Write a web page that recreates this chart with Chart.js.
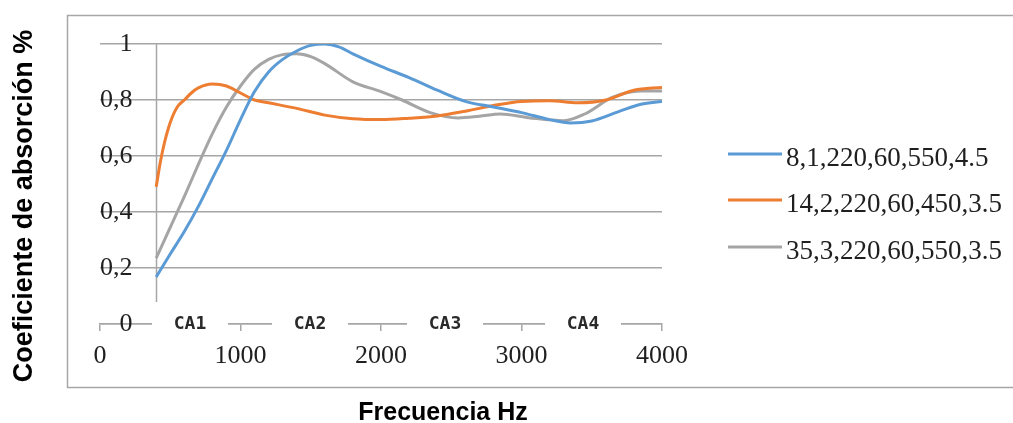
<!DOCTYPE html>
<html>
<head>
<meta charset="utf-8">
<script src="https://cdn.jsdelivr.net/npm/chart.js@4.4.1/dist/chart.umd.min.js"></script>
<style>
  html, body { margin: 0; padding: 0; background: #fff; overflow: hidden; }
  canvas { display: block; }
</style>
</head>
<body>
<canvas id="chart" width="1013" height="423"></canvas>
<script>
// Absorption coefficient vs frequency for three panel configurations
const seriesLabels = ['8,1,220,60,550,4.5', '14,2,220,60,450,3.5', '35,3,220,60,550,3.5'];

const blueHz  = [400, 500, 600, 700, 800, 900, 1000, 1100, 1200, 1300, 1400, 1500, 1600, 1700, 1800, 2000, 2200, 2400, 2600, 2800, 3000, 3200, 3350, 3500, 3700, 3850, 4000];
const blueAbs = [0.168, 0.25, 0.33, 0.42, 0.52, 0.62, 0.73, 0.83, 0.90, 0.945, 0.975, 0.995, 1.0, 0.99, 0.965, 0.92, 0.88, 0.835, 0.795, 0.775, 0.755, 0.73, 0.718, 0.725, 0.76, 0.785, 0.795];

const orangeHz  = [400, 430, 460, 500, 550, 600, 650, 700, 800, 900, 1000, 1100, 1200, 1400, 1600, 1800, 2000, 2200, 2400, 2600, 2800, 3000, 3200, 3400, 3600, 3800, 4000];
const orangeAbs = [0.49, 0.58, 0.65, 0.72, 0.775, 0.80, 0.825, 0.843, 0.857, 0.85, 0.825, 0.80, 0.79, 0.77, 0.746, 0.733, 0.73, 0.735, 0.743, 0.76, 0.78, 0.795, 0.797, 0.79, 0.80, 0.835, 0.845];

const grayHz  = [400, 500, 600, 700, 800, 900, 1000, 1100, 1200, 1300, 1400, 1500, 1600, 1800, 2000, 2150, 2350, 2550, 2700, 2850, 3050, 3300, 3450, 3650, 3850, 4000];
const grayAbs = [0.235, 0.345, 0.455, 0.57, 0.68, 0.775, 0.85, 0.91, 0.945, 0.962, 0.965, 0.955, 0.93, 0.865, 0.83, 0.80, 0.755, 0.736, 0.742, 0.75, 0.737, 0.726, 0.75, 0.81, 0.832, 0.832];

const xTicks = [0, 1000, 2000, 3000, 4000];
const yTicks = [0, 0.2, 0.4, 0.6, 0.8, 1];
const bandLabels = ['CA1', 'CA2', 'CA3', 'CA4'];
const xTitle = 'Frecuencia Hz';
const yTitle = 'Coeficiente de absorción %';

const COLORS = ['#5b9bd5', '#ed7d31', '#a5a5a5'];
const GRID = '#a6a6a6';
const SERIF = '"Liberation Serif", "Times New Roman", serif';
const SANS = '"Liberation Sans", Arial, sans-serif';

const toPoints = (hz, vals) => hz.map((f, i) => ({ x: f, y: vals[i] }));

const decor = {
  id: 'decor',
  beforeDraw(chart) {
    const ctx = chart.ctx;
    ctx.save();
    ctx.fillStyle = '#fff';
    ctx.fillRect(0, 0, chart.width, chart.height);
    ctx.strokeStyle = GRID;
    ctx.lineWidth = 1.5;
    ctx.strokeRect(67.5, 15.5, 960, 372);
    ctx.restore();
  },
  beforeDatasetsDraw(chart) {
    const { ctx, scales: { x, y } } = chart;
    ctx.save();
    ctx.strokeStyle = GRID;
    ctx.lineWidth = 1.5;
    const px = Math.round(x.getPixelForValue(blueHz[0])) + 0.5;
    ctx.beginPath();
    ctx.moveTo(px, y.getPixelForValue(1));
    ctx.lineTo(px, y.getPixelForValue(0) - 22);
    ctx.stroke();
    ctx.restore();
  },
  afterDraw(chart) {
    const { ctx, scales: { y } } = chart;
    ctx.save();
    // band labels sitting on the baseline
    const baseY = y.getPixelForValue(0);
    const centres = [190, 310, 445, 583];
    ctx.font = 'bold 18px "DejaVu Sans Mono", monospace';
    ctx.textAlign = 'center';
    ctx.textBaseline = 'middle';
    bandLabels.forEach((t, i) => {
      ctx.fillStyle = '#fff';
      ctx.fillRect(centres[i] - 38, baseY - 4, 76, 8);
      ctx.fillStyle = '#2a2a2a';
      ctx.fillText(t, centres[i], baseY);
    });

    // legend
    const rows = [154, 200, 247];
    ctx.textAlign = 'left';
    ctx.textBaseline = 'alphabetic';
    ctx.font = '27px ' + SERIF;
    chart.data.datasets.forEach((ds, i) => {
      ctx.strokeStyle = ds.borderColor;
      ctx.lineWidth = 3;
      ctx.beginPath();
      ctx.moveTo(728, rows[i]);
      ctx.lineTo(782, rows[i]);
      ctx.stroke();
      ctx.fillStyle = '#1f1f1f';
      ctx.fillText(ds.label, 786, rows[i] + 12);
    });

    // axis titles
    ctx.fillStyle = '#000';
    ctx.font = 'bold 25px ' + SANS;
    ctx.textAlign = 'center';
    ctx.fillText(xTitle, 443, 420);
    ctx.translate(32, 206);
    ctx.rotate(-Math.PI / 2);
    ctx.font = 'bold 27px ' + SANS;
    ctx.textBaseline = 'alphabetic';
    ctx.fillText(yTitle, 0, 0);
    ctx.restore();
  }
};

new Chart(document.getElementById('chart'), {
  type: 'scatter',
  data: {
    datasets: [
      { label: seriesLabels[0], data: toPoints(blueHz, blueAbs), borderColor: COLORS[0] },
      { label: seriesLabels[1], data: toPoints(orangeHz, orangeAbs), borderColor: COLORS[1] },
      { label: seriesLabels[2], data: toPoints(grayHz, grayAbs), borderColor: COLORS[2] }
    ].map(d => Object.assign(d, {
      showLine: true, borderWidth: 3, pointRadius: 0, backgroundColor: d.borderColor,
      cubicInterpolationMode: 'monotone', fill: false
    }))
  },
  options: {
    responsive: false,
    animation: false,
    devicePixelRatio: 1,
    layout: { padding: { left: 100, top: 44, right: 351, bottom: 0 } },
    plugins: { legend: { display: false }, tooltip: { enabled: false } },
    scales: {
      x: {
        type: 'linear', min: 0, max: 4000,
        afterBuildTicks: s => { s.ticks = xTicks.map(v => ({ value: v })); },
        afterFit: s => { s.height = 99; },
        grid: { display: true, drawOnChartArea: false, drawTicks: true, tickLength: 7, color: GRID, lineWidth: 1.5 },
        border: { display: true, color: GRID, width: 1.5 },
        ticks: {
          font: { family: SERIF, size: 26 }, color: '#1f1f1f', padding: 10,
          maxRotation: 0, autoSkip: false, callback: v => String(v)
        }
      },
      y: {
        type: 'linear', min: 0, max: 1,
        afterBuildTicks: s => { s.ticks = yTicks.map(v => ({ value: v })); },
        afterFit: s => { s.width = 0; },
        grid: { drawTicks: false, color: GRID, lineWidth: 1.5 },
        border: { display: false },
        ticks: {
          mirror: true, crossAlign: 'far', padding: 0,
          font: { family: SERIF, size: 26 }, color: '#1f1f1f',
          callback: v => String(v).replace('.', ',')
        }
      }
    }
  },
  plugins: [decor]
});
</script>
</body>
</html>
